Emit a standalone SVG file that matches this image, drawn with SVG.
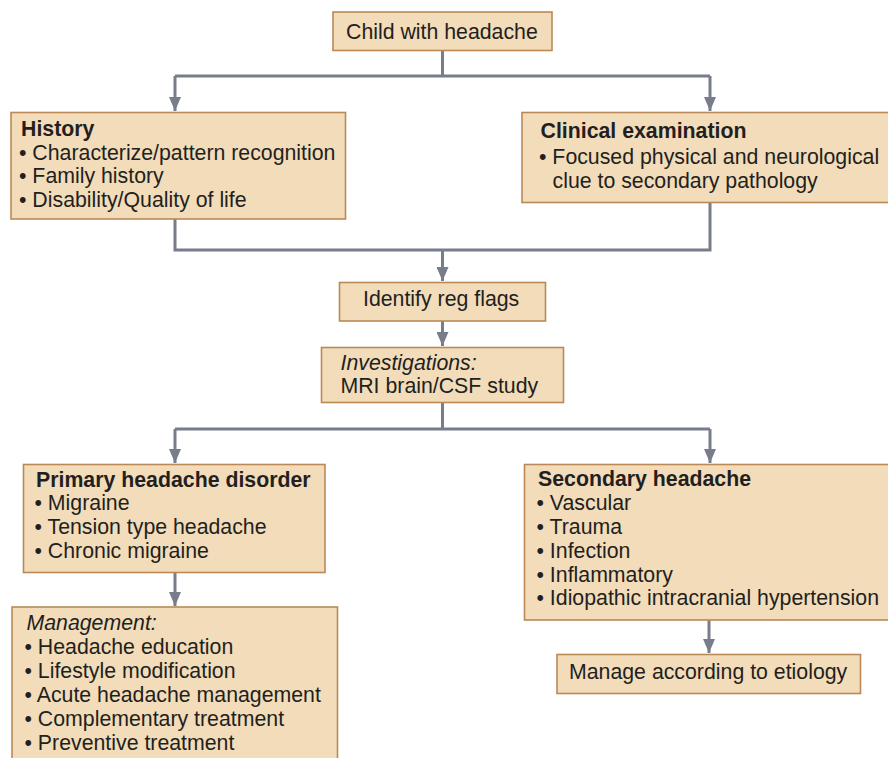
<svg xmlns="http://www.w3.org/2000/svg" width="888" height="758" viewBox="0 0 888 758">
<defs>
<style>
.box{fill:#f2dcb9;stroke:#b98a58;stroke-width:1.6}
text{font-family:"Liberation Sans",Arial,sans-serif;font-size:21.3px;fill:#231f20}
.b{font-weight:bold}
.i{font-style:italic}
.c{fill:none;stroke:#787d8c;stroke-width:3}
</style>
<marker id="ah" markerUnits="userSpaceOnUse" markerWidth="14" markerHeight="12" viewBox="0 0 14 12" refX="14" refY="6" orient="auto">
<path d="M0,0 L14,6 L0,12 Z" fill="#787d8c"/>
</marker>
</defs>
<rect width="888" height="758" fill="#ffffff"/>
<g id="connectors">
<path class="c" d="M442.5,51 V76 M175,76 H710"/>
<path class="c" d="M175,76 V111" marker-end="url(#ah)"/>
<path class="c" d="M710,76 V111" marker-end="url(#ah)"/>
<path class="c" d="M175,219 V250 H710 V202"/>
<path class="c" d="M442.5,250 V281" marker-end="url(#ah)"/>
<path class="c" d="M442.5,321 V346" marker-end="url(#ah)"/>
<path class="c" d="M442.5,403 V429 M175,429 H710"/>
<path class="c" d="M175,429 V463" marker-end="url(#ah)"/>
<path class="c" d="M710,429 V463" marker-end="url(#ah)"/>
<path class="c" d="M175,573 V606" marker-end="url(#ah)"/>
<path class="c" d="M709,620 V653" marker-end="url(#ah)"/>
</g>
<g id="child">
<rect class="box" x="333" y="12" width="219" height="38.5"/>
<text x="346" y="38.5">Child with headache</text>
</g>
<g id="history">
<rect class="box" x="11" y="112.5" width="334.5" height="106.5"/>
<text x="21" y="135.5" class="b">History</text>
<text x="19" y="159.5">• Characterize/pattern recognition</text>
<text x="19" y="183">• Family history</text>
<text x="19" y="206.5">• Disability/Quality of life</text>
</g>
<g id="clinical">
<rect class="box" x="522" y="112.5" width="370" height="90"/>
<text x="540.5" y="138" class="b">Clinical examination</text>
<text x="539" y="163.5">• Focused physical and neurological</text>
<text x="552.5" y="187.5">clue to secondary pathology</text>
</g>
<g id="redflags">
<rect class="box" x="339.5" y="282.5" width="206" height="38.5"/>
<text x="363" y="306">Identify reg flags</text>
</g>
<g id="investigations">
<rect class="box" x="321.5" y="347.5" width="242" height="55"/>
<text x="340.5" y="369.5" class="i">Investigations:</text>
<text x="340.5" y="393">MRI brain/CSF study</text>
</g>
<g id="primary">
<rect class="box" x="23.5" y="464.5" width="301.5" height="108"/>
<text x="36" y="486.5" class="b">Primary headache disorder</text>
<text x="34.5" y="510">• Migraine</text>
<text x="34.5" y="534">• Tension type headache</text>
<text x="34.5" y="557.5">• Chronic migraine</text>
</g>
<g id="management">
<rect class="box" x="12" y="607" width="325.5" height="160"/>
<text x="26.5" y="630" class="i">Management:</text>
<text x="24.5" y="654">• Headache education</text>
<text x="24.5" y="678">• Lifestyle modification</text>
<text x="24.5" y="702">• Acute headache management</text>
<text x="24.5" y="726">• Complementary treatment</text>
<text x="24.5" y="750">• Preventive treatment</text>
</g>
<g id="secondary">
<rect class="box" x="524.5" y="464.5" width="370" height="155.5"/>
<text x="538" y="486" class="b">Secondary headache</text>
<text x="536.5" y="510">• Vascular</text>
<text x="536.5" y="534">• Trauma</text>
<text x="536.5" y="557.5">• Infection</text>
<text x="536.5" y="581.5">• Inflammatory</text>
<text x="536.5" y="605">• Idiopathic intracranial hypertension</text>
</g>
<g id="etiology">
<rect class="box" x="557" y="654.5" width="303.5" height="39"/>
<text x="569" y="678.5">Manage according to etiology</text>
</g>
</svg>
